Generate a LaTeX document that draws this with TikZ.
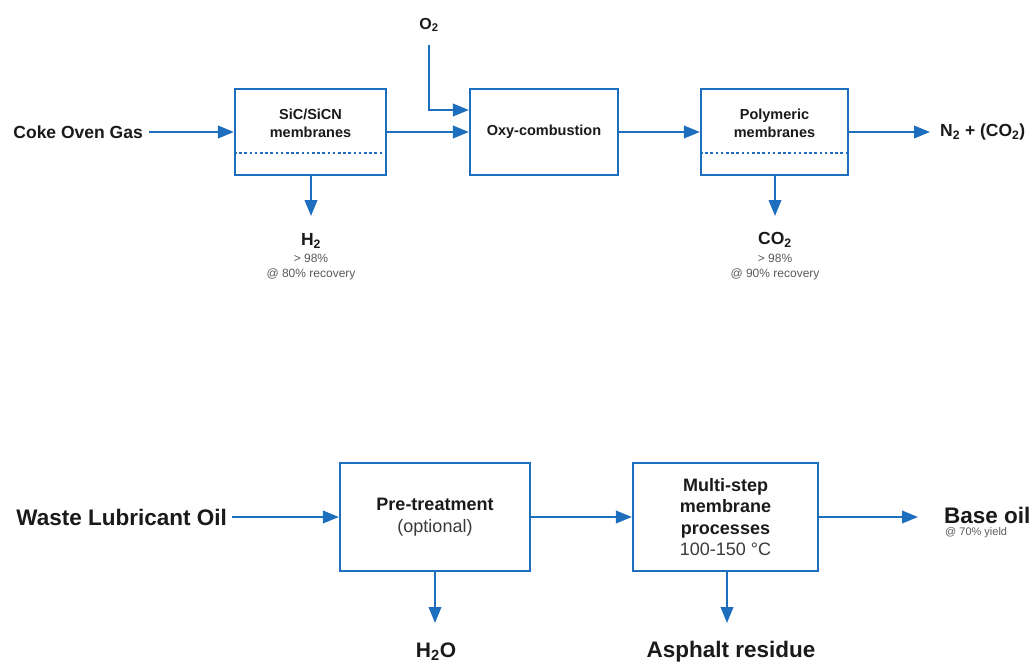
\documentclass[tikz,border=0pt]{standalone}
\usepackage{fontspec}
\setmainfont{Liberation Sans}
\usetikzlibrary{arrows.meta}
\definecolor{flowblue}{HTML}{1E6EBE}
\definecolor{ink}{HTML}{1A1A1A}
\definecolor{note}{HTML}{5A5A5A}
\definecolor{subink}{HTML}{3A3A3A}
\tikzset{
  procbox/.style={draw=flowblue, line width=2.2pt, fill=white, inner sep=0pt, align=center, text=ink},
  flow/.style={draw=flowblue, line width=2.2pt, -{Triangle[length=16pt,width=12.5pt]}},
  memline/.style={draw=flowblue, line width=2.2pt, dash pattern=on 2.6pt off 2.6pt},
  boxtext/.style={align=center, text=ink, inner sep=0pt, font=\fontsize{14.5}{18}\selectfont\bfseries},
  toplabel/.style={text=ink, inner sep=0pt, font=\fontsize{17.5}{20}\selectfont\bfseries},
  botlabel/.style={text=ink, inner sep=0pt, font=\fontsize{22.5}{26}\selectfont\bfseries},
  smallnote/.style={text=note, inner sep=0pt, align=center, font=\fontsize{12}{14.5}\selectfont},
}
\begin{document}
\begin{tikzpicture}[x=1pt,y=-1pt]
\useasboundingbox (0,0) rectangle (1036,664);
% ---------- top row ----------
\node[procbox, minimum width=151pt, minimum height=86pt] (b1) at (310.5,132) {};
\node[boxtext] (b1t) at ([yshift=9pt]b1.center) {SiC/SiCN\\membranes};
\draw[memline] ([yshift=-21pt]b1.west) -- ([yshift=-21pt]b1.east);

\node[procbox, minimum width=148pt, minimum height=86pt, font=\fontsize{14.5}{18}\selectfont\bfseries] (b2) at (544,132) {Oxy-combustion};

\node[procbox, minimum width=147pt, minimum height=86pt] (b3) at (774.5,132) {};
\node[boxtext] (b3t) at ([yshift=9pt]b3.center) {Polymeric\\membranes};
\draw[memline] ([yshift=-21pt]b3.west) -- ([yshift=-21pt]b3.east);

\node[toplabel, anchor=east] (cog) at (143,132) {Coke Oven Gas};
\node[toplabel, font=\fontsize{16}{19}\selectfont\bfseries] (o2) at (429,25) {O\textsubscript{2}};
\node[toplabel, anchor=west] (n2) at (940,132) {N\textsubscript{2} + (CO\textsubscript{2})};

\node[toplabel] (h2) at (311,241) {H\textsubscript{2}};
\node[smallnote] (h2n) at (311,267) {> 98\%\\@ 80\% recovery};
\node[toplabel] (co2) at (775,240) {CO\textsubscript{2}};
\node[smallnote] (co2n) at (775,267) {> 98\%\\@ 90\% recovery};

\coordinate (h2tip) at (311,216);
\coordinate (co2tip) at (775,216);
\coordinate (n2tip) at (930,132);

\draw[flow] ([xshift=6pt]cog.east |- b1.west) -- (b1.west);
\draw[flow] (b1.east) -- (b2.west);
\draw[flow] ([yshift=-20pt]o2.center) |- ([yshift=22pt]b2.west);
\draw[flow] (b2.east) -- (b3.west);
\draw[flow] (b3.east) -- (n2tip);
\draw[flow] (b1.south -| h2tip) -- (h2tip);
\draw[flow] (b3.south -| co2tip) -- (co2tip);

% ---------- bottom row ----------
\node[procbox, minimum width=190pt, minimum height=108pt, font=\fontsize{18}{21.5}\selectfont\bfseries] (ba) at (435,517)
  {Pre-treatment\\{\mdseries\color{subink}(optional)}};
\node[procbox, minimum width=185pt, minimum height=108pt, font=\fontsize{18}{21.5}\selectfont\bfseries] (bb) at (725.5,517)
  {Multi-step\\membrane\\processes\\{\mdseries\color{subink}100-150 °C}};

\node[botlabel, anchor=east] (wlo) at (227,517) {Waste Lubricant Oil};
\node[botlabel, anchor=west] (base) at (944,515) {Base oil};
\node[smallnote, anchor=west, font=\fontsize{11}{13}\selectfont] (yield) at (945,533) {@ 70\% yield};
\node[botlabel, font=\fontsize{21}{25}\selectfont\bfseries] (h2o) at (436,652) {H\textsubscript{2}O};
\node[botlabel] (asph) at (731,652) {Asphalt residue};

\coordinate (h2otip) at (435,623);
\coordinate (asphtip) at (727,623);
\coordinate (basetip) at (918,517);

\draw[flow] ([xshift=5pt]wlo.east |- ba.west) -- (ba.west);
\draw[flow] (ba.east) -- (bb.west);
\draw[flow] (bb.east) -- (basetip);
\draw[flow] (ba.south -| h2otip) -- (h2otip);
\draw[flow] (bb.south -| asphtip) -- (asphtip);
\end{tikzpicture}
\end{document}
